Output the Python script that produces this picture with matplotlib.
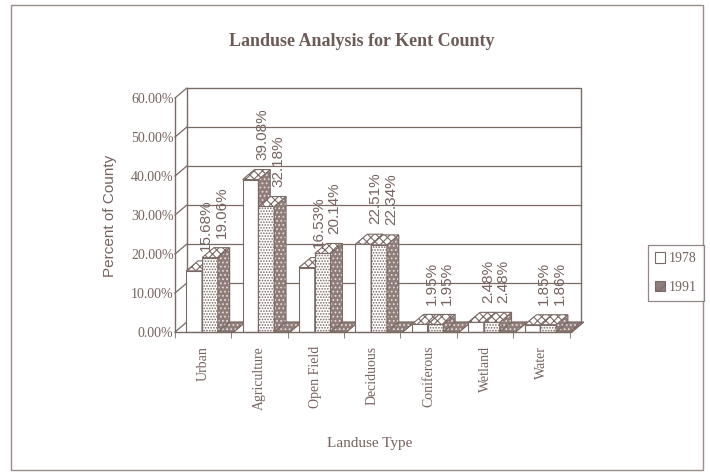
import matplotlib
matplotlib.use('Agg')
import matplotlib.pyplot as plt
from matplotlib.patches import Polygon, Rectangle, Patch

# ---------------- data ----------------
categories = ['Urban', 'Agriculture', 'Open Field', 'Deciduous', 'Coniferous', 'Wetland', 'Water']
pct_1978 = [15.68, 39.08, 16.53, 22.51, 1.95, 2.48, 1.85]
pct_1991 = [19.06, 32.18, 20.14, 22.34, 1.95, 2.48, 1.86]
pct_blank = [0, 0, 0, 0, 0, 0, 0]          # empty third series drawn by the 3-D chart
series_names = ['1978', '1991']
y_ticks = [0, 10, 20, 30, 40, 50, 60]
y_tick_labels = ['0.00%', '10.00%', '20.00%', '30.00%', '40.00%', '50.00%', '60.00%']
title = 'Landuse Analysis for Kent County'
x_title = 'Landuse Type'
y_title = 'Percent of County'

# ---------------- style ----------------
INK = '#7a6965'
TXT = '#76625e'
DARK = '#8e7d79'
DOT = '#e2dad8'
SERIF = 'Liberation Serif'
SANS = 'Liberation Sans'
plt.rcParams['hatch.linewidth'] = 0.8

FW, FH = 710, 474
fig = plt.figure(figsize=(FW / 100, FH / 100), dpi=100)
fig.patch.set_facecolor('white')

ax = fig.add_axes([175 / FW, (FH - 332) / FH, 407 / FW, 244 / FH])
DX, DY, W = 0.21, 2.56, 0.28
ax.set_xlim(-0.5, 6.72)
ax.set_ylim(0, 62.56)
for s in ax.spines.values():
    s.set_visible(False)

# walls / floor
ax.add_patch(Rectangle((-0.5 + DX, DY), 7, 60, fill=False, ec=INK, lw=1.0, clip_on=False, zorder=1))
for v in y_ticks:
    ax.plot([-0.5, -0.5 + DX], [v, v + DY], color=INK, lw=0.9, clip_on=False, zorder=1)
for v in y_ticks[1:-1]:
    ax.plot([-0.5 + DX, 6.5 + DX], [v + DY, v + DY], color=INK, lw=0.9, clip_on=False, zorder=1)
ax.plot([-0.5, -0.5], [0, 60], color=INK, lw=1.0, clip_on=False, zorder=1)
ax.plot([-0.5, 6.5], [0, 0], color=INK, lw=1.0, clip_on=False, zorder=200)
ax.plot([6.5, 6.5 + DX], [0, DY], color=INK, lw=1.0, clip_on=False, zorder=200)


def dark_poly(pts, z, hatch):
    ax.add_patch(Polygon(pts, closed=True, facecolor=DARK, edgecolor=DOT, lw=0, hatch=hatch,
                         zorder=z, clip_on=False))
    ax.add_patch(Polygon(pts, closed=True, fill=False, edgecolor=INK, lw=0.8, zorder=z, clip_on=False))


def light_poly(pts, z, hatch):
    ax.add_patch(Polygon(pts, closed=True, facecolor='white', edgecolor=INK, lw=0.8, hatch=hatch,
                         zorder=z, clip_on=False))


offsets = [-0.30, -0.02, 0.26]
series = [pct_1978, pct_1991, pct_blank]

for i in range(len(categories)):
    for j, vals in enumerate(series):
        v = vals[i]
        x0 = i + offsets[j]
        z = 5 + i * 10 + j * 3
        if j == 0:
            ax.bar(x0, v, W, align='edge', facecolor='white', edgecolor=INK, lw=0.8, zorder=z, clip_on=False)
        else:
            ax.bar(x0, v, W, align='edge', facecolor='white', edgecolor=INK, lw=0.8, hatch='......',
                   zorder=z, clip_on=False)
        side = [(x0 + W, 0), (x0 + W + DX, DY), (x0 + W + DX, v + DY), (x0 + W, v)]
        top = [(x0, v), (x0 + W, v), (x0 + W + DX, v + DY), (x0 + DX, v + DY)]
        dark_poly(side, z + 1, '....')
        if j == 2:
            dark_poly(top, z + 2, '....')
        else:
            light_poly(top, z + 2, 'xxxx')
        if j < 2:
            ax.annotate(f'{v:.2f}%', xy=(x0 + W / 2 + DX, v + DY), xytext=(0, 7),
                        textcoords='offset points', rotation=90, ha='center', va='bottom',
                        fontsize=11, family=SANS, color=TXT, zorder=300)

# ticks
ax.set_xticks(range(len(categories)))
ax.set_xticklabels(categories, rotation=90, family=SERIF, fontsize=10, color=TXT)
ax.set_xticks([k - 0.5 for k in range(len(categories) + 1)], minor=True)
ax.tick_params(axis='x', which='major', length=0, pad=10)
ax.tick_params(axis='x', which='minor', length=4, color=INK, direction='out')
ax.set_yticks(y_ticks)
ax.set_yticklabels(y_tick_labels, family=SERIF, fontsize=10, color=TXT)
ax.tick_params(axis='y', length=0, pad=1)

# texts
fig.text(362 / FW, 1 - 42 / FH, title, ha='center', va='center', family=SERIF, fontsize=13,
         color='#6e5a56', fontweight='bold')
fig.text(370 / FW, 1 - 443 / FH, x_title, ha='center', va='center', family=SERIF, fontsize=11, color=TXT)
fig.text(110 / FW, 1 - 216 / FH, y_title, ha='center', va='center', rotation=90, family=SANS,
         fontsize=11, color=TXT)

# legend
handles = [Patch(facecolor='white', edgecolor=INK, lw=0.8),
           Patch(facecolor=DARK, edgecolor=INK, lw=0.8, hatch='xx')]
leg = fig.legend(handles, series_names, loc='center left', bbox_to_anchor=(648 / FW, 1 - 273 / FH),
                 frameon=True, fancybox=False, edgecolor=INK, handlelength=0.75, handleheight=0.75,
                 handletextpad=0.25, labelspacing=1.1, borderpad=0.5, borderaxespad=0,
                 prop={'family': SERIF, 'size': 10}, labelcolor=TXT)
leg.get_frame().set_linewidth(0.9)

# outer chart border
fig.patches.append(Rectangle((11 / FW, 4 / FH), 692 / FW, 465 / FH, transform=fig.transFigure,
                             fill=False, ec='#9a8c88', lw=1.0))

fig.savefig('out.png', dpi=100)
